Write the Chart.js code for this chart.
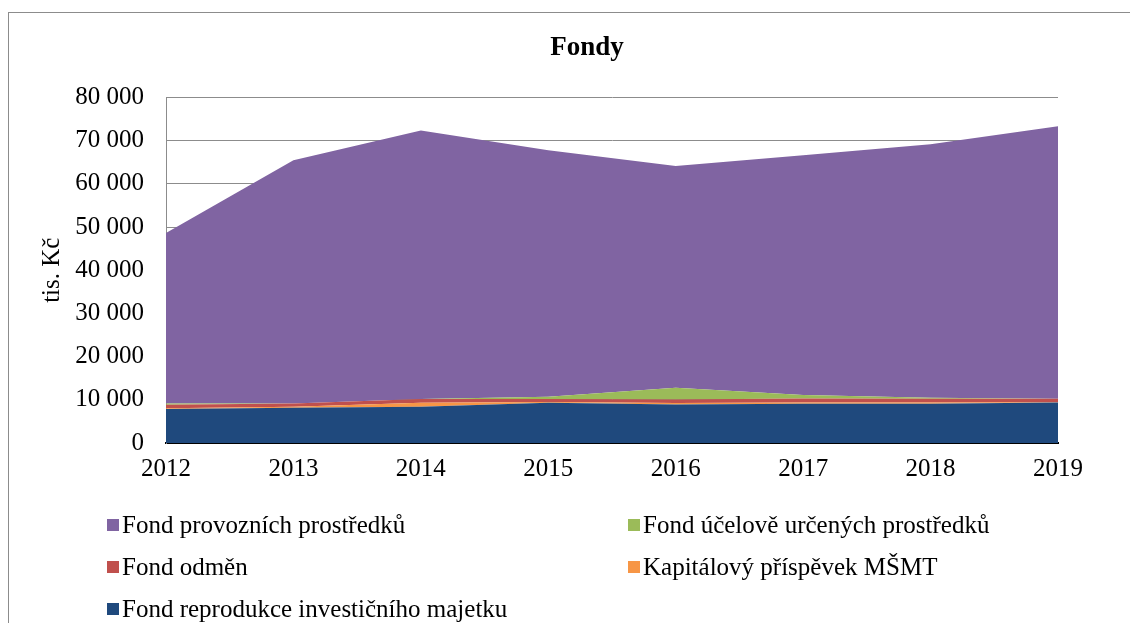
<!DOCTYPE html>
<html>
<head>
<meta charset="utf-8">
<script src="https://cdn.jsdelivr.net/npm/chart.js@4.4.1/dist/chart.umd.min.js"></script>
<style>
  html, body { margin: 0; padding: 0; background: #fff; overflow: hidden; }
  #wrap { position: relative; width: 1130px; height: 623px; }
  #frame { position: absolute; left: 8px; top: 12px; width: 1200px; height: 700px; border: 1px solid #8c8c8c; }
  #chart { position: absolute; left: 0; top: 0; }
  #legend {
    position: absolute; left: 107px; top: 504px;
    display: grid; grid-template-columns: 521px 480px; grid-auto-rows: 42px;
    font-family: "Liberation Serif", serif; font-size: 25px; color: #000;
  }
  #legend div { display: flex; align-items: center; white-space: nowrap; }
  #legend span.box { display: inline-block; width: 12px; height: 12px; margin-right: 3px; }
</style>
</head>
<body>
<div id="wrap">
  <div id="frame"></div>
  <canvas id="chart" width="1130" height="623"></canvas>
  <div id="legend"></div>
</div>
<script>
// years on the x axis
const years = ["2012", "2013", "2014", "2015", "2016", "2017", "2018", "2019"];

// tis. Kč (bottom to top)
const reprodukce = [7860, 8170, 8390, 9320, 8940, 9090, 9090, 9400];
const kapitalovy = [200, 230, 925, 150, 300, 300, 300, 50];
const odmen = [770, 770, 850, 700, 850, 925, 850, 770];
const ucelove = [300, 0, 0, 540, 2700, 770, 230, 0];
const provozni = [39490, 56260, 62200, 57040, 51330, 55500, 58660, 63080];

const serif = "Liberation Serif";

function fmt(v) {
  return String(v).replace(/\B(?=(\d{3})+(?!\d))/g, " ");
}

function area(label, data, color, fill) {
  return {
    label: label,
    data: data,
    backgroundColor: color,
    borderColor: color,
    borderWidth: 0,
    pointRadius: 0,
    pointHoverRadius: 0,
    tension: 0,
    fill: fill,
  };
}

// the title in the reference sits a bit left of the plot centre
const titleShift = {
  id: "titleShift",
  afterLayout(c) {
    c.titleBlock.left = 116;
  },
};

const ctx = document.getElementById("chart").getContext("2d");
const chart = new Chart(ctx, {
  type: "line",
  data: {
    labels: years,
    datasets: [
      area("Fond reprodukce investičního majetku", reprodukce, "#1F497D", "origin"),
      area("Kapitálový příspěvek MŠMT", kapitalovy, "#F79646", "-1"),
      area("Fond odměn", odmen, "#C0504D", "-1"),
      area("Fond účelově určených prostředků", ucelove, "#9BBB59", "-1"),
      area("Fond provozních prostředků", provozni, "#8064A2", "-1"),
    ],
  },
  plugins: [titleShift],
  options: {
    responsive: false,
    animation: false,
    layout: { padding: { left: 0, right: 72, top: 0, bottom: 0 } },
    plugins: {
      legend: { display: false },
      tooltip: { enabled: false },
      title: {
        display: true,
        text: "Fondy",
        color: "#000",
        font: { family: serif, size: 27, weight: "bold" },
        padding: { top: 32, bottom: 33 },
      },
    },
    scales: {
      x: {
        offset: false,
        grid: { display: false, drawTicks: false },
        border: { display: true, color: "#000", width: 2 },
        ticks: { color: "#000", padding: 11, font: { family: serif, size: 25 }, maxRotation: 0 },
        afterFit: (scale) => { scale.height = 180; },
      },
      y: {
        stacked: true,
        min: 0,
        max: 80000,
        ticks: {
          stepSize: 10000,
          color: "#000",
          padding: 22,
          font: { family: serif, size: 25 },
          callback: (v) => fmt(v),
        },
        grid: { color: "#8c8c8c", lineWidth: 1, drawTicks: false },
        border: { display: true, color: "#8c8c8c", width: 1 },
        title: {
          display: true,
          text: "tis. Kč",
          color: "#000",
          font: { family: serif, size: 25 },
          padding: { top: 37, bottom: 0 },
        },
        afterFit: (scale) => { scale.width = 166; },
      },
    },
  },
});

// legend in two columns, same order as the reference (top series first)
const legendEl = document.getElementById("legend");
chart.data.datasets.slice().reverse().forEach((ds) => {
  const item = document.createElement("div");
  const box = document.createElement("span");
  box.className = "box";
  box.style.background = ds.backgroundColor;
  item.appendChild(box);
  item.appendChild(document.createTextNode(ds.label));
  legendEl.appendChild(item);
});
</script>
</body>
</html>
